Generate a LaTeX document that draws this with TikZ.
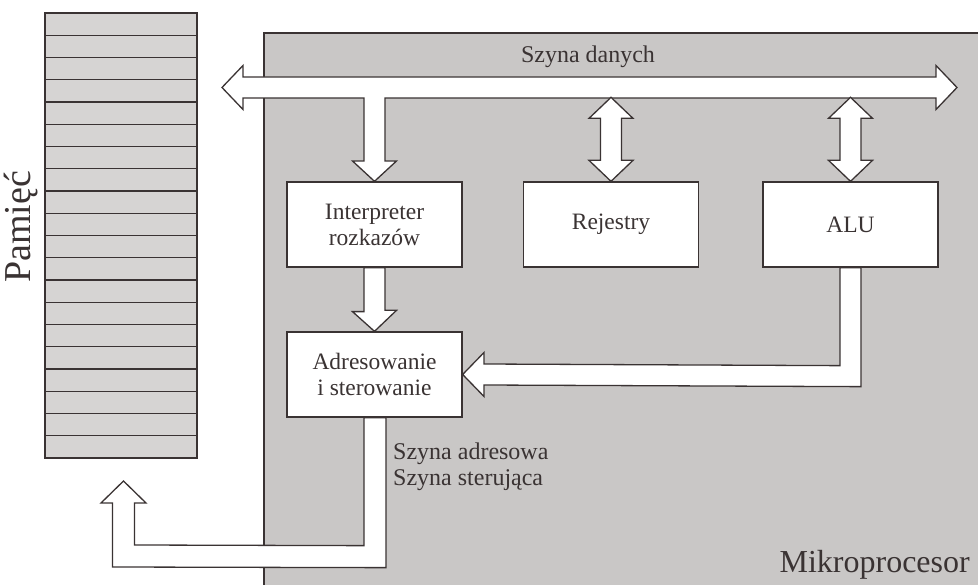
\documentclass[tikz,border=0pt]{standalone}
\usepackage{fontspec}
\setmainfont{Liberation Serif}
\usetikzlibrary{calc}
\definecolor{ink}{HTML}{3A3333}
\definecolor{cpugray}{HTML}{C9C7C6}
\definecolor{memgray}{HTML}{D6D4D3}
\begin{document}
\begin{tikzpicture}[x=1pt,y=-1pt,
  line join=miter,
  outl/.style={draw=ink,line width=1.3pt},
  barrow/.style={outl,fill=white},
  blk/.style={outl,fill=white,minimum width=175pt,minimum height=85pt,inner sep=0pt,align=center,
    text=ink,font=\fontsize{23.5}{26}\selectfont},
  lbl/.style={text=ink,inner sep=0pt,font=\fontsize{24}{25}\selectfont},
  big/.style={text=ink,inner sep=0pt,font=\fontsize{32}{36}\selectfont}]
\useasboundingbox (0,0) rectangle (978,585);
% microprocessor area
\fill[cpugray] (264,33) rectangle (978,585);
\draw[outl] (264,585) -- (264,33) -- (978,33);
% memory
\fill[memgray] (45,13) rectangle (197,458);
\foreach \i in {1,...,19} \draw[draw=ink,line width=1.2pt] (45,{13+\i*22.25}) -- (197,{13+\i*22.25});
\draw[outl] (45,13) rectangle (197,458);
\node[text=ink,inner sep=0pt,font=\fontsize{38}{40}\selectfont,rotate=90] (mem) at (21,227) {Pamięć};
% blocks
\node[blk] (interp) at (374.5,224.5) {Interpreter\\rozkazów};
\node[blk] (adres) at (374.5,374.5) {Adresowanie\\i sterowanie};
\node[blk] (rej) at (611,224.5) {Rejestry};
\node[blk] (alu) at (850.5,224.5) {ALU};
% data bus with branch to the interpreter
\coordinate (busL) at (222,87.5);
\coordinate (busR) at (957,87.5);
\draw[barrow] (busL) -- (243,65.5) -- (243,77) -- (936,77) -- (936,65.5) -- (busR)
  -- (936,109.5) -- (936,98) -- (385,98) -- (385,161) -- (396.5,161) -- (interp.north)
  -- (352.5,161) -- (364,161) -- (364,98) -- (243,98) -- (243,109.5) -- cycle;
\node[lbl] (sd) at (588,57) {Szyna danych};
% registers and ALU double arrows
\draw[barrow] (rej.north) -- ++(-22,-21) -- ++(11.5,0) -- ++(0,-42) -- ++(-11.5,0) -- ++(22,-21)
  -- ++(22,21) -- ++(-11.5,0) -- ++(0,42) -- ++(11.5,0) -- cycle;
\draw[barrow] (alu.north) -- ++(-22,-21) -- ++(11.5,0) -- ++(0,-42) -- ++(-11.5,0) -- ++(22,-21)
  -- ++(22,21) -- ++(-11.5,0) -- ++(0,42) -- ++(11.5,0) -- cycle;
% interpreter -> addressing
\draw[barrow] ($(interp.south)+(-10.5,0)$) -- ++(0,44) -- ++(-11.5,0) -- (adres.north)
  -- ++(22,-21) -- ++(-11.5,0) -- ($(interp.south)+(10.5,0)$) -- cycle;
% ALU -> addressing
\draw[barrow] ($(alu.south)+(-10.5,0)$) -- ++(0,98) -- (484,364) -- (484,352.5) -- (adres.east)
  -- (484,396.5) -- (484,385) -- ($(alu.south)+(10.5,119)$) -- ($(alu.south)+(10.5,0)$) -- cycle;
% address / control bus to memory
\coordinate (memtip) at (123.5,481);
\draw[barrow] ($(adres.south)+(-10.5,0)$) -- ++(0,128) -- (134.5,545) -- (134.5,503) -- (146,503)
  -- (memtip) -- (101,503) -- (112.5,503) -- (112.5,567) -- ($(adres.south)+(11.5,150)$)
  -- ($(adres.south)+(11.5,0)$) -- cycle;
\node[lbl,anchor=base west,align=left] (sa) at (393,485) {Szyna adresowa\\Szyna sterująca};
\node[big,anchor=base east] (mp) at (970,572) {Mikroprocesor};
\end{tikzpicture}
\end{document}
